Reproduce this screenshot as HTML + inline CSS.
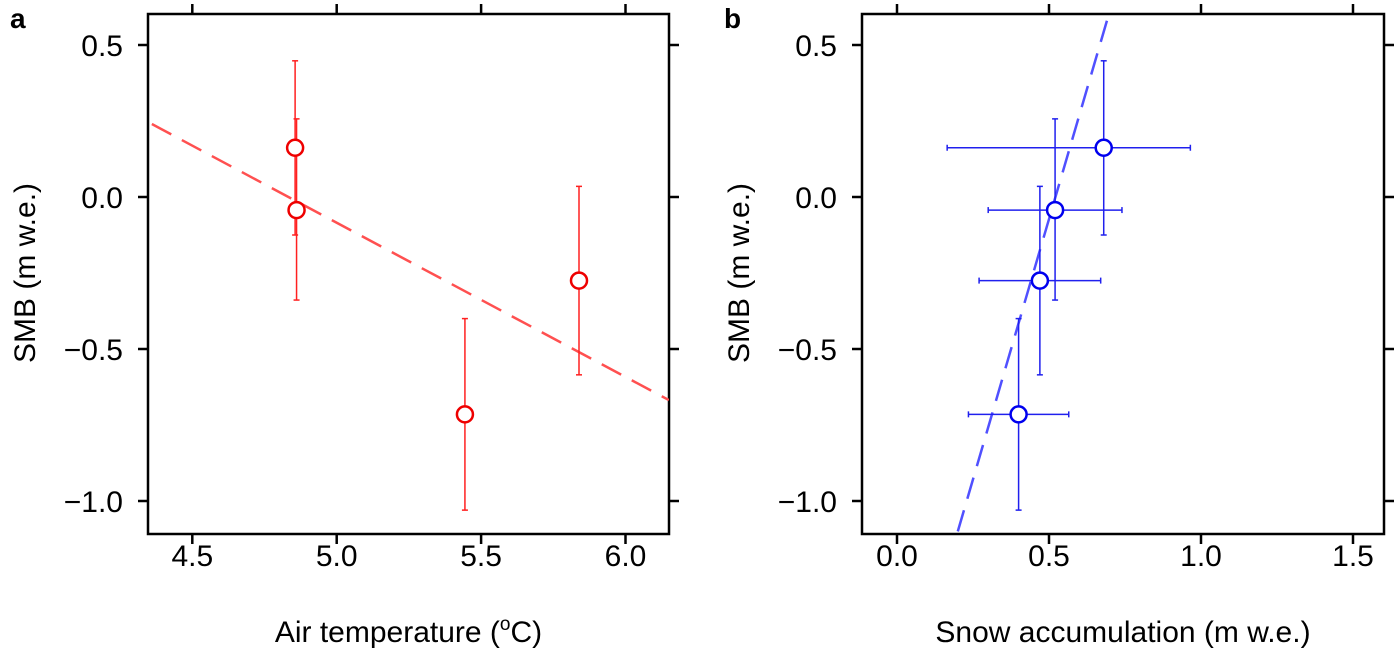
<!DOCTYPE html>
<html><head><meta charset="utf-8"><style>
body{margin:0;background:#fff;}
svg text{font-family:"Liberation Sans",Arial,sans-serif;fill:#000;}
</style></head><body>
<svg id="c" width="1400" height="656" xmlns="http://www.w3.org/2000/svg"></svg>
<script>
// Panel a data
const tempX = [4.856, 4.861, 5.444, 5.839];
const smbA = [0.162, -0.043, -0.715, -0.275];
const smbAHi = [0.448, 0.257, -0.40, 0.035];
const smbALo = [-0.125, -0.339, -1.03, -0.585];
const fitA = [[4.36, 0.24], [6.15, -0.668]];
const xTicksA = [4.5, 5.0, 5.5, 6.0];
const xTickLabelsA = ["4.5", "5.0", "5.5", "6.0"];
// Panel b data
const snowX = [0.40, 0.47, 0.52, 0.68];
const snowLo = [0.235, 0.27, 0.30, 0.165];
const snowHi = [0.565, 0.67, 0.74, 0.965];
const smbB = [-0.715, -0.275, -0.043, 0.162];
const smbBHi = [-0.40, 0.035, 0.257, 0.448];
const smbBLo = [-1.03, -0.585, -0.339, -0.125];
const fitB = [[0.2, -1.1], [0.697, 0.602]];
const xTicksB = [0, 0.5, 1.0, 1.5];
const xTickLabelsB = ["0.0", "0.5", "1.0", "1.5"];
const yTicks = [0.5, 0, -0.5, -1.0];
const yTickLabels = ["0.5", "0.0", "\u22120.5", "\u22121.0"];

const svg = document.getElementById('c');
const NS = 'http://www.w3.org/2000/svg';
function mk(tag, attrs, parent) {
  const e = document.createElementNS(NS, tag);
  for (const k in attrs) e.setAttribute(k, attrs[k]);
  (parent || svg).appendChild(e);
  return e;
}
const plotTop = 14, plotBot = 534;
const yS = v => 197 - v * 304;

function panel(id, L, R, xS, xTicks, xLabels, xTitle, letter) {
  const g = mk('g', {});
  
  
  const box = mk('rect', {x: L, y: plotTop, width: R - L, height: plotBot - plotTop, fill: 'none', stroke: '#000', 'stroke-width': 2.5}, g);
  
  
  xTicks.forEach((v, i) => {
    const x = xS(v);
    mk('line', {x1: x, x2: x, y1: plotBot, y2: plotBot + 10, stroke: '#000', 'stroke-width': 2.5}, g);
    mk('line', {x1: x, x2: x, y1: plotTop, y2: plotTop - 10, stroke: '#000', 'stroke-width': 2.5}, g);
    const t = mk('text', {x: x, y: 566, 'font-size': 30, 'text-anchor': 'middle'}, g);
    t.textContent = xLabels[i];
    
    
  });
  yTicks.forEach((v, i) => {
    const y = yS(v);
    mk('line', {x1: L, x2: L - 10, y1: y, y2: y, stroke: '#000', 'stroke-width': 2.5}, g);
    mk('line', {x1: R, x2: R + 10, y1: y, y2: y, stroke: '#000', 'stroke-width': 2.5}, g);
    const t = mk('text', {x: L - 25, y: y + 11, 'font-size': 30, 'text-anchor': 'end'}, g);
    t.textContent = yTickLabels[i];
    
    
  });
  const yt = mk('text', {x: 0, y: 0, 'font-size': 30, 'text-anchor': 'middle', transform: `translate(${L - 113},273) rotate(-90)`}, g);
  yt.textContent = 'SMB (m w.e.)';
  
  
  const xt = mk('text', {x: (L + R) / 2, y: 642, 'font-size': 30, 'text-anchor': 'middle'}, g);
  xt.innerHTML = xTitle;
  
  
  const pl = mk('text', {x: L - 138, y: 28, 'font-size': 28, 'font-weight': 'bold'}, g);
  pl.textContent = letter;
  
  
  return g;
}

// Panel a
const xA = v => 192.3 + (v - 4.5) * 288.8;
const gA = panel('a', 148, 669, xA, xTicksA, xTickLabelsA, 'Air temperature (<tspan font-size="19" dy="-12">o</tspan><tspan dy="12">C)</tspan>', 'a');
const clipA = mk('clipPath', {id: 'clA'}); mk('rect', {x: 148, y: 14, width: 521, height: 520}, clipA);
const fa = mk('line', {x1: xA(fitA[0][0]), y1: yS(fitA[0][1]), x2: xA(fitA[1][0]), y2: yS(fitA[1][1]), stroke: '#ff5050', 'stroke-width': 2.5, 'stroke-dasharray': '22 12', 'clip-path': 'url(#clA)'}, gA);


tempX.forEach((v, i) => {
  const x = xA(v);
  const eb = mk('g', {stroke: '#ff2020', 'stroke-width': 1.5}, gA);
  
  
  mk('line', {x1: x, x2: x, y1: yS(smbAHi[i]), y2: yS(smbALo[i])}, eb);
  mk('line', {x1: x - 3, x2: x + 3, y1: yS(smbAHi[i]), y2: yS(smbAHi[i])}, eb);
  mk('line', {x1: x - 3, x2: x + 3, y1: yS(smbALo[i]), y2: yS(smbALo[i])}, eb);
});
tempX.forEach((v, i) => {
  const c = mk('circle', {cx: xA(v), cy: yS(smbA[i]), r: 8, fill: '#fff', stroke: '#ee0000', 'stroke-width': 2.5}, gA);
  
  
});

// Panel b
const xB = v => 897 + v * 304;
const gB = panel('b', 862, 1384, xB, xTicksB, xTickLabelsB, 'Snow accumulation (m w.e.)', 'b');
const clipB = mk('clipPath', {id: 'clB'}); mk('rect', {x: 862, y: 14, width: 522, height: 520}, clipB);
const fb = mk('line', {x1: xB(fitB[0][0]), y1: yS(fitB[0][1]), x2: xB(fitB[1][0]), y2: yS(fitB[1][1]), stroke: '#5050ff', 'stroke-width': 2.5, 'stroke-dasharray': '22 12', 'clip-path': 'url(#clB)'}, gB);


snowX.forEach((v, i) => {
  const x = xB(v), y = yS(smbB[i]);
  const eb = mk('g', {stroke: '#2020ee', 'stroke-width': 1.5}, gB);
  
  
  mk('line', {x1: x, x2: x, y1: yS(smbBHi[i]), y2: yS(smbBLo[i])}, eb);
  mk('line', {x1: x - 3, x2: x + 3, y1: yS(smbBHi[i]), y2: yS(smbBHi[i])}, eb);
  mk('line', {x1: x - 3, x2: x + 3, y1: yS(smbBLo[i]), y2: yS(smbBLo[i])}, eb);
  mk('line', {x1: xB(snowLo[i]), x2: xB(snowHi[i]), y1: y, y2: y}, eb);
  mk('line', {x1: xB(snowLo[i]), x2: xB(snowLo[i]), y1: y - 3, y2: y + 3}, eb);
  mk('line', {x1: xB(snowHi[i]), x2: xB(snowHi[i]), y1: y - 3, y2: y + 3}, eb);
});
snowX.forEach((v, i) => {
  const c = mk('circle', {cx: xB(v), cy: yS(smbB[i]), r: 8, fill: '#fff', stroke: '#0000ee', 'stroke-width': 2.5}, gB);
  
  
});
</script>
</body></html>
